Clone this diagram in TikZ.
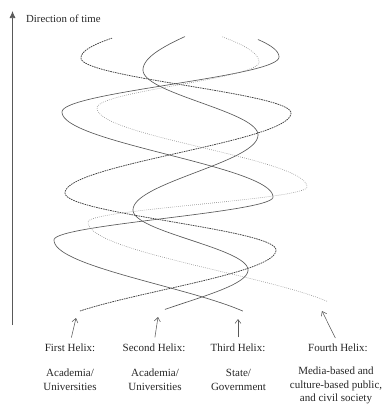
\documentclass[tikz,border=0pt]{standalone}
\usepackage{fontspec}
\setmainfont{Liberation Serif}
\usetikzlibrary{arrows.meta}
\begin{document}
\begin{tikzpicture}[x=1pt,y=-1pt,
  helixA/.style={draw=black!75, line width=0.75pt, dash pattern=on 1.6pt off 0.8pt},
  helixS/.style={draw=black!65, line width=0.65pt},
  helixD/.style={draw=black!45, line width=0.6pt, dash pattern=on 0.7pt off 1.3pt},
  seg/.style={domain=0:180, samples=45, variable=\t},
  lbl/.style={font=\fontsize{11}{13.6}\selectfont, align=center, inner sep=0pt, text=black!85},
  ptr/.style={draw=black!65, line width=0.55pt, shorten <=6pt, -{Straight Barb[length=4pt,width=6pt]}},
  axisline/.style={draw=black!65, line width=0.7pt, -{Latex[length=7pt,width=6pt]}}]
\useasboundingbox (0,0) rectangle (383,405);

% axis
\coordinate (ab) at (12.5,325);
\coordinate (at) at (12.5,11);
\draw[axisline] (ab) -- (at);
\node[lbl, anchor=west, font=\fontsize{10.8}{13}\selectfont] (dt) at (26,19) {Direction of time};

% First helix (dashed)
\draw[helixA]
  plot[seg, domain=42.7:180] ({163-113*cos(\t)},{330-80*(\t/180)})
  -- plot[seg] ({170.5+105.5*cos(\t)},{250-57*(\t/180)})
  -- plot[seg] ({178-113*cos(\t)},{193-80*(\t/180)})
  -- plot[seg] ({186+105*cos(\t)},{113-55*(\t/180)})
  -- plot[seg, domain=0:43.6] ({193.5-112.5*cos(\t)},{58-82*(\t/180)});

% Second helix (solid)
\draw[helixS]
  plot[seg, domain=70.8:180] ({185.5-62.5*cos(\t)},{335-65*(\t/180)})
  -- plot[seg] ({190.5+57.5*cos(\t)},{270-60*(\t/180)})
  -- plot[seg] ({195.5-62.5*cos(\t)},{210-75*(\t/180)})
  -- plot[seg] ({200.5+57.5*cos(\t)},{135-65*(\t/180)})
  -- plot[seg, domain=0:70.8] ({205.5-62.5*cos(\t)},{70-85*(\t/180)});

% Third helix (solid)
\draw[helixS]
  plot[seg, domain=37.8:180] ({159.5+105.5*cos(\t)},{330-90*(\t/180)})
  -- plot[seg] ({163.5-109.5*cos(\t)},{240-43*(\t/180)})
  -- plot[seg] ({167.5+105.5*cos(\t)},{197-85*(\t/180)})
  -- plot[seg] ({170.5-108.5*cos(\t)},{112-55*(\t/180)})
  -- plot[seg, domain=0:37] ({174.5+104.5*cos(\t)},{57-85*(\t/180)});

% Fourth helix (dotted)
\draw[helixD]
  plot[seg, domain=34.5:180] ({219+131*cos(\t)},{320-98*(\t/180)})
  -- plot[seg] ({197.5-109.5*cos(\t)},{222-35*(\t/180)})
  -- plot[seg] ({202+105*cos(\t)},{187-79*(\t/180)})
  -- plot[seg] ({178-81*cos(\t)},{108-46*(\t/180)})
  -- plot[seg, domain=0:57.6] ({179.5+79.5*cos(\t)},{62-79*(\t/180)});

% labels
\node[lbl] (l1) at (70,347.5) {First Helix:};
\node[lbl] (l2) at (154,347.5) {Second Helix:};
\node[lbl] (l3) at (238,347.5) {Third Helix:};
\node[lbl] (l4) at (338,347.5) {Fourth Helix:};
\node[lbl] (d1) at (70,380) {Academia/\\Universities};
\node[lbl] (d2) at (155,380) {Academia/\\Universities};
\node[lbl] (d3) at (238.5,380) {State/\\Government};
\node[lbl] (d4) at (336,385.5) {Media-based and\\culture-based public,\\and civil society};

% pointers
\coordinate (t1) at (76,318);
\coordinate (t2) at (158,317);
\coordinate (t3) at (238,319);
\coordinate (t4) at (322,311);
\draw[ptr] (l1.north) -- (t1);
\draw[ptr] (l2.north) -- (t2);
\draw[ptr] (l3.north) -- (t3);
\draw[ptr] (l4.north) -- (t4);
\end{tikzpicture}
\end{document}
